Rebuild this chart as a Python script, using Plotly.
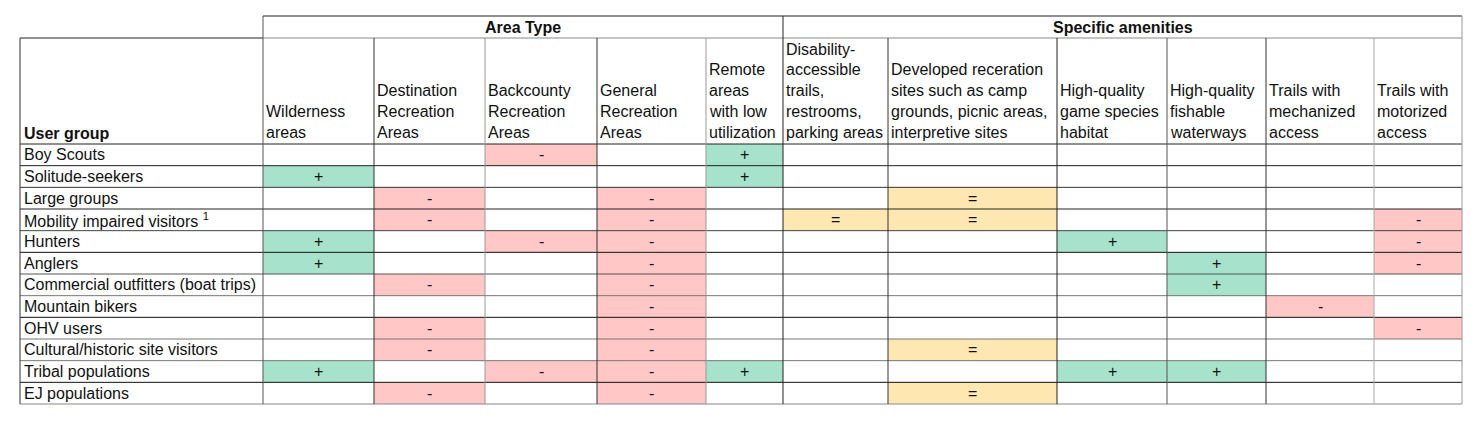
import plotly.graph_objects as go

# ---------------- data ----------------
group_labels = ["Area Type", "Specific amenities"]
group_spans = [5, 6]  # number of columns in each group

column_labels = [
    ["Wilderness", "areas"],
    ["Destination", "Recreation", "Areas"],
    ["Backcounty", "Recreation", "Areas"],
    ["General", "Recreation", "Areas"],
    ["Remote", "areas", "with low", "utilization"],
    ["Disability-", "accessible", "trails,", "restrooms,", "parking areas"],
    ["Developed receration", "sites such as camp", "grounds, picnic areas,", "interpretive sites"],
    ["High-quality", "game species", "habitat"],
    ["High-quality", "fishable", "waterways"],
    ["Trails with", "mechanized", "access"],
    ["Trails with", "motorized", "access"],
]

row_header = "User group"
user_groups = [
    "Boy Scouts",
    "Solitude-seekers",
    "Large groups",
    "Mobility impaired visitors <sup>1</sup>",
    "Hunters",
    "Anglers",
    "Commercial outfitters (boat trips)",
    "Mountain bikers",
    "OHV users",
    "Cultural/historic site visitors",
    "Tribal populations",
    "EJ populations",
]

effects = [
    ["", "", "-", "", "+", "", "", "", "", "", ""],
    ["+", "", "", "", "+", "", "", "", "", "", ""],
    ["", "-", "", "-", "", "", "=", "", "", "", ""],
    ["", "-", "", "-", "", "=", "=", "", "", "", "-"],
    ["+", "", "-", "-", "", "", "", "+", "", "", "-"],
    ["+", "", "", "-", "", "", "", "", "+", "", "-"],
    ["", "-", "", "-", "", "", "", "", "+", "", ""],
    ["", "", "", "-", "", "", "", "", "", "-", ""],
    ["", "-", "", "-", "", "", "", "", "", "", "-"],
    ["", "-", "", "-", "", "", "=", "", "", "", ""],
    ["+", "", "-", "-", "+", "", "", "+", "+", "", ""],
    ["", "-", "", "-", "", "", "=", "", "", "", ""],
]

# ---------------- layout / style ----------------
W, H = 1479, 422
PAGE_MARGIN = 8  # default body margin of the html page
COL_EDGES = [20, 263, 374, 485, 597, 706, 783, 888, 1057, 1167, 1266, 1374, 1462]
TOP = 16
GROUP_BOTTOM = 38
HEADER_BOTTOM = 144
TABLE_BOTTOM = 404
LINE_PITCH = 20.7
FONT = "Liberation Sans"
FS = 16
TXT = "#111111"

SYMBOL_CODE = {"": 0, "+": 1, "-": 2, "=": 3}
GREEN, PINK, YELLOW = "#A6E2CC", "#FFC7C6", "#FFE7B1"

n_rows = len(user_groups)
row_h = (TABLE_BOTTOM - HEADER_BOTTOM) / n_rows
row_edges = [HEADER_BOTTOM + i * row_h for i in range(n_rows + 1)]

fig = go.Figure()

# coloured cells via heatmap bricks
z = [[SYMBOL_CODE[s] for s in row] for row in effects]
fig.add_trace(go.Heatmap(
    z=z, x=COL_EDGES[1:], y=row_edges,
    zmin=-0.5, zmax=3.5,
    colorscale=[[0, "white"], [0.25, "white"], [0.25, GREEN], [0.5, GREEN],
                [0.5, PINK], [0.75, PINK], [0.75, YELLOW], [1, YELLOW]],
    showscale=False, hoverinfo="skip", xgap=0, ygap=0,
))

annotations = []
# cell symbols
for r, row in enumerate(effects):
    yc = (row_edges[r] + row_edges[r + 1]) / 2
    for c, s in enumerate(row):
        if s:
            xc = (COL_EDGES[c + 1] + COL_EDGES[c + 2]) / 2
            annotations.append(dict(x=xc, y=yc, text=s, showarrow=False,
                                    xanchor="center", yanchor="middle",
                                    font=dict(family=FONT, size=FS, color=TXT)))

# row labels
for r, name in enumerate(user_groups):
    yc = (row_edges[r] + row_edges[r + 1]) / 2
    annotations.append(dict(x=COL_EDGES[0] + 2, y=yc, text=name, showarrow=False,
                            xanchor="left", yanchor="middle",
                            font=dict(family=FONT, size=FS, color=TXT)))

# row header
annotations.append(dict(x=COL_EDGES[0] + 2, y=HEADER_BOTTOM - 11, text="<b>" + row_header + "</b>",
                        showarrow=False, xanchor="left", yanchor="middle",
                        font=dict(family=FONT, size=FS, color=TXT)))

# column headers
for c, lines in enumerate(column_labels):
    n = len(lines)
    for k, line in enumerate(lines):
        yc = HEADER_BOTTOM - 12 - (n - 1 - k) * LINE_PITCH
        annotations.append(dict(x=COL_EDGES[c + 1] + 1, y=yc, text=line, showarrow=False,
                                xanchor="left", yanchor="middle",
                                font=dict(family=FONT, size=FS, color=TXT)))

# group headers
start = 1
for g, span in zip(group_labels, group_spans):
    x0, x1 = COL_EDGES[start], COL_EDGES[start + span]
    annotations.append(dict(x=(x0 + x1) / 2, y=(TOP + GROUP_BOTTOM) / 2, text="<b>" + g + "</b>",
                            showarrow=False, xanchor="center", yanchor="middle",
                            font=dict(family=FONT, size=FS, color=TXT)))
    start += span

# grid lines
shapes = []
def hline(y, x0, x1, color):
    shapes.append(dict(type="line", xref="x", yref="y", x0=x0, x1=x1, y0=y, y1=y,
                       line=dict(color=color, width=1)))
def vline(x, y0, y1, color):
    shapes.append(dict(type="line", xref="x", yref="y", x0=x, x1=x, y0=y0, y1=y1,
                       line=dict(color=color, width=1)))

h_colors = ["#222", "#222", "#333", "#222", "#444", "#111", "#555", "#777",
            "#111", "#777", "#777", "#111", "#888"]
for y, col in zip(row_edges, h_colors):
    hline(y, COL_EDGES[0], COL_EDGES[-1], col)
hline(TOP, COL_EDGES[1], COL_EDGES[-1], "#222")
hline(GROUP_BOTTOM, COL_EDGES[1], COL_EDGES[-1], "#888")
hline(GROUP_BOTTOM, COL_EDGES[0], COL_EDGES[1], "#222")

v_colors = ["#333", "#555", "#333", "#999", "#333", "#999", "#222", "#333",
            "#222", "#555", "#333", "#aaa", "#999"]
group_bounds = {COL_EDGES[1], COL_EDGES[1 + group_spans[0]], COL_EDGES[-1]}
for x, col in zip(COL_EDGES, v_colors):
    y0 = TOP if x in group_bounds else GROUP_BOTTOM
    vline(x, y0, TABLE_BOTTOM, col)

fig.update_layout(
    width=W - PAGE_MARGIN, height=H - PAGE_MARGIN,
    margin=dict(l=0, r=0, t=0, b=0),
    paper_bgcolor="white", plot_bgcolor="white",
    xaxis=dict(range=[PAGE_MARGIN, W], visible=False, fixedrange=True),
    yaxis=dict(range=[H, PAGE_MARGIN], visible=False, fixedrange=True),
    annotations=annotations, shapes=shapes, showlegend=False,
)

fig.write_html("out.html")
